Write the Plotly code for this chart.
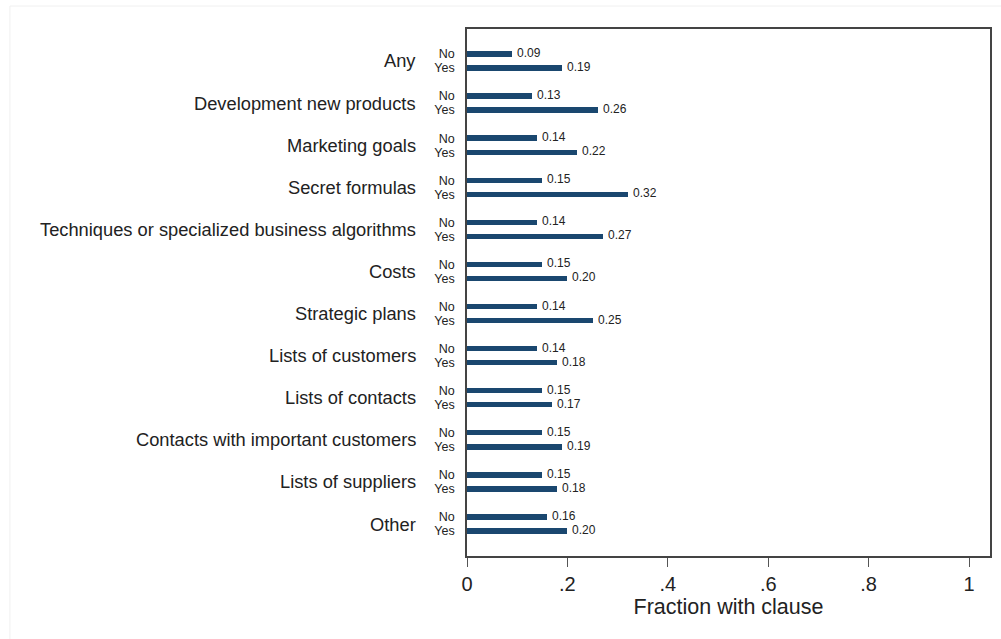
import plotly.graph_objects as go

categories = ["Any", "Development new products", "Marketing goals", "Secret formulas",
              "Techniques or specialized business algorithms", "Costs", "Strategic plans",
              "Lists of customers", "Lists of contacts", "Contacts with important customers",
              "Lists of suppliers", "Other"]
no_vals = [0.09, 0.13, 0.14, 0.15, 0.14, 0.15, 0.14, 0.14, 0.15, 0.15, 0.15, 0.16]
yes_vals = [0.19, 0.26, 0.22, 0.32, 0.27, 0.20, 0.25, 0.18, 0.17, 0.19, 0.18, 0.20]
x_ticks = [0, 0.2, 0.4, 0.6, 0.8, 1]
x_ticktext = ["0", ".2", ".4", ".6", ".8", "1"]

FONT = "Arial, 'Liberation Sans', sans-serif"
BAR = "#1a476f"

pitch = 3
y_no = [k * pitch for k in range(len(categories))]
y_yes = [k * pitch + 1 for k in range(len(categories))]

fig = go.Figure()
for ys, vals in [(y_no, no_vals), (y_yes, yes_vals)]:
    fig.add_trace(go.Bar(
        x=vals, y=ys, orientation="h", width=0.38,
        marker=dict(color=BAR, line=dict(width=0)),
        showlegend=False, hoverinfo="skip"))
    for v, yy in zip(vals, ys):
        fig.add_annotation(x=v, y=yy, xref="x", yref="y", text=f"{v:.2f}",
                           showarrow=False, xanchor="left", yanchor="middle",
                           xshift=3, yshift=1,
                           font=dict(size=12, color="#222", family=FONT))

for k, c in enumerate(categories):
    fig.add_annotation(x=0, xref="paper", y=k * pitch + 0.5, yref="y",
                       text=c, showarrow=False, xanchor="right", yanchor="middle",
                       xshift=-49, font=dict(size=18.3, color="#222", family=FONT))

fig.add_shape(type="rect", xref="paper", yref="paper", x0=-0.874, x1=1.2, y0=-0.3, y1=1.0436,
              line=dict(color="#f0f0f0", width=1), layer="below")

fig.update_layout(
    width=1001, height=639,
    margin=dict(l=467, r=9, t=29, b=83),
    paper_bgcolor="white", plot_bgcolor="white",
    font=dict(family=FONT, color="#222"),
    bargap=0,
    xaxis=dict(range=[0, 1.0417], tickvals=x_ticks, ticktext=x_ticktext,
               ticks="outside", ticklen=9, tickwidth=1.3, tickcolor="#555",
               tickfont=dict(size=20, color="#222"),
               showgrid=False, zeroline=False,
               showline=True, linecolor="#444", linewidth=1.5, mirror=True,
               title=dict(text="Fraction with clause", font=dict(size=21.5, color="#222"), standoff=2)),
    yaxis=dict(range=[35.78, -1.78], tickvals=y_no + y_yes,
               ticktext=["No"] * len(y_no) + ["Yes"] * len(y_yes),
               ticks="", ticklabelstandoff=8,
               tickfont=dict(size=12.5, color="#222"),
               showgrid=False, zeroline=False,
               showline=True, linecolor="#444", linewidth=1.5, mirror=True),
)

fig.write_html("out.html", config={"displayModeBar": False},
               post_script="document.body.style.margin='0';")
